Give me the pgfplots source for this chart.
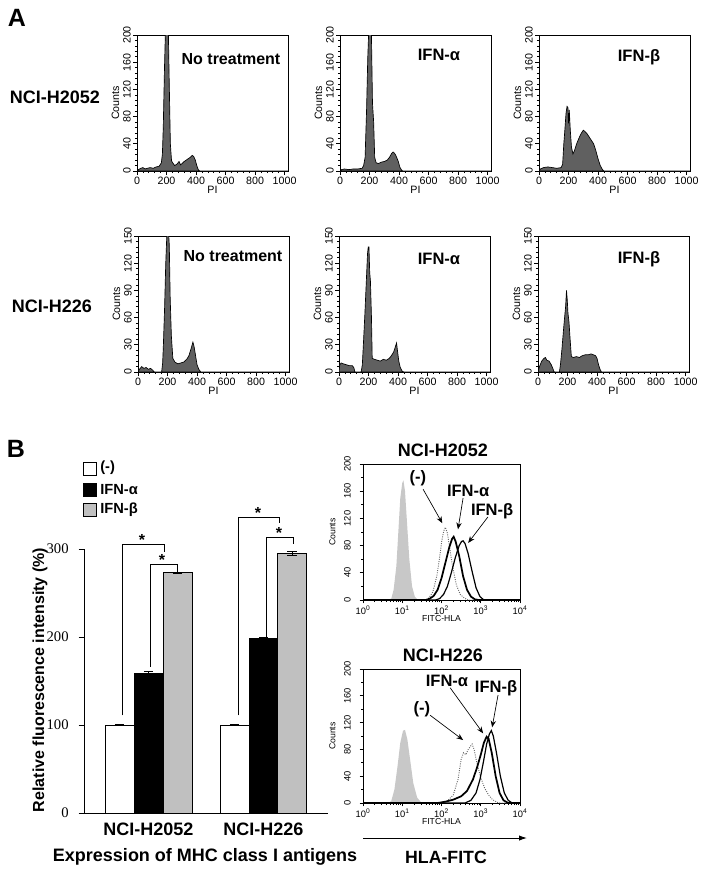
\documentclass[border=0pt]{standalone}
\usepackage{fontspec}
\setmainfont{Liberation Sans}
\newfontfamily\serif{Liberation Serif}
\usepackage{pgfplots}
\pgfplotsset{compat=1.18}
\usetikzlibrary{arrows.meta}
\definecolor{histfill}{RGB}{96,96,96}
\definecolor{barg}{RGB}{192,192,192}
\definecolor{isog}{RGB}{200,200,200}
\newcommand{\fsz}[1]{\fontsize{#1}{#1}\selectfont}
\tikzset{lab/.style={font=\bfseries\fsz{12.4}}}

\pgfplotsset{
 histA/.style={anchor=south west, scale only axis, width=113.25pt, height=102pt,
   xmin=0, xmax=1023, ymin=0, xtick={0,200,...,1000}, minor x tick num=4, minor y tick num=4,
   tick pos=left, tick align=outside, major tick length=3pt, minor tick length=1.6pt,
   every tick/.style={black, line width=0.5pt},
   axis line style={line width=0.7pt},
   tick label style={font=\fsz{8}},
   yticklabel style={rotate=90, anchor=south, inner sep=1.5pt},
   xticklabel style={inner sep=1.5pt},
   label style={font=\fsz{8}},
   xlabel=PI, ylabel=Counts,
   xlabel style={yshift=4pt},
   ylabel style={yshift=-2pt},
   /pgf/number format/assume math mode=true,
   /pgf/number format/1000 sep={},
 },
 histA1/.style={histA, ymax=200, ytick={0,40,...,200}},
 histA2/.style={histA, ymax=150, ytick={0,30,...,150}},
 hfill/.style={fill=histfill, draw=black, line width=0.5pt},
 histB/.style={anchor=south west, scale only axis, width=117.75pt,
   xmin=0, xmax=4, ymin=0, ymax=200,
   xtick={0,1,2,3,4},
   xticklabels={10\textsuperscript{0},10\textsuperscript{1},10\textsuperscript{2},10\textsuperscript{3},10\textsuperscript{4}},
   minor xtick={0.301,0.477,0.602,0.699,0.778,0.845,0.903,0.954,1.301,1.477,1.602,1.699,1.778,1.845,1.903,1.954,2.301,2.477,2.602,2.699,2.778,2.845,2.903,2.954,3.301,3.477,3.602,3.699,3.778,3.845,3.903,3.954},
   ytick={0,40,...,200}, minor y tick num=1,
   tick pos=left, tick align=outside, major tick length=2.5pt, minor tick length=1.5pt,
   every tick/.style={black, line width=0.5pt},
   axis line style={line width=0.7pt},
   tick label style={font=\fsz{7}},
   yticklabel style={rotate=90, anchor=south, inner sep=1.5pt, yshift=5pt},
   xticklabel style={inner sep=1.5pt},
   label style={font=\fsz{6.5}},
   xlabel=FITC-HLA, ylabel=Counts,
   xlabel style={yshift=4pt},
   ylabel style={at={(axis description cs:-0.145,0.5)}, anchor=south, rotate=0},
   clip=false,
   /pgf/number format/assume math mode=true,
 },
}

\begin{document}
\begin{tikzpicture}
\path[use as bounding box] (0,0) rectangle (528.75pt,-655.5pt);
\begin{scope}[x=0.75pt,y=-0.75pt]
\coordinate (a11) at (137,171);
\coordinate (a12) at (340,171);
\coordinate (a13) at (539,171);
\coordinate (a21) at (138,372);
\coordinate (a22) at (339,372);
\coordinate (a23) at (538,372);
\coordinate (bar) at (84,813);
\coordinate (b1) at (363,600);
\coordinate (b2) at (363,803);
\end{scope}

% ---------- Panel A, row 1 ----------
\begin{axis}[histA1, at={(a11)}]
\addplot[hfill] table[row sep=\\] {
0 0\\ 10 2\\ 25 4\\ 40 5\\ 55 3\\ 70 4\\ 90 5\\ 110 4\\ 130 6\\ 150 7\\ 165 12\\ 172 25\\ 178 65\\ 186 150\\ 193 210\\ 212 210\\ 218 135\\ 226 40\\ 234 15\\ 242 12\\ 255 8\\ 270 10\\ 285 14\\ 295 9\\ 305 11\\ 320 14\\ 340 17\\ 360 20\\ 375 23\\ 385 21\\ 395 16\\ 405 8\\ 415 2\\ 425 0\\ 1023 0\\
} \closedcycle;
\end{axis}

\begin{axis}[histA1, at={(a12)}]
\addplot[hfill] table[row sep=\\] {
0 0\\ 10 2\\ 30 3\\ 60 2\\ 90 3\\ 120 3\\ 150 4\\ 160 8\\ 170 20\\ 180 90\\ 188 166\\ 196 215\\ 212 215\\ 220 100\\ 228 72\\ 235 20\\ 245 12\\ 260 11\\ 280 13\\ 300 14\\ 320 16\\ 335 20\\ 350 26\\ 360 28\\ 370 26\\ 380 22\\ 395 14\\ 405 6\\ 415 2\\ 425 0\\ 1023 0\\
} \closedcycle;
\end{axis}

\begin{axis}[histA1, at={(a13)}]
\addplot[hfill] table[row sep=\\] {
0 0\\ 10 3\\ 30 5\\ 60 6\\ 90 5\\ 120 4\\ 150 5\\ 160 10\\ 168 40\\ 175 60\\ 183 85\\ 190 95\\ 196 93\\ 200 70\\ 205 90\\ 212 60\\ 220 35\\ 230 25\\ 240 30\\ 255 40\\ 270 48\\ 285 55\\ 300 60\\ 312 58\\ 325 55\\ 340 50\\ 355 45\\ 370 40\\ 385 30\\ 400 18\\ 415 8\\ 430 2\\ 440 0\\ 1023 0\\
} \closedcycle;
\end{axis}

% ---------- Panel A, row 2 ----------
\begin{axis}[histA2, at={(a21)}]
\addplot[hfill] table[row sep=\\] {
0 0\\ 10 3\\ 25 6\\ 40 4\\ 55 5\\ 70 3\\ 85 4\\ 100 2\\ 110 0\\ 160 0\\ 167 10\\ 172 30\\ 180 70\\ 188 120\\ 195 150\\ 205 160\\ 212 140\\ 218 82\\ 226 40\\ 236 15\\ 250 11\\ 270 9\\ 290 10\\ 310 11\\ 330 14\\ 345 18\\ 360 26\\ 372 33\\ 380 28\\ 390 18\\ 400 8\\ 412 3\\ 425 0\\ 1023 0\\
} \closedcycle;
\end{axis}

\begin{axis}[histA2, at={(a22)}]
\addplot[hfill] table[row sep=\\] {
0 0\\ 5 8\\ 15 10\\ 30 9\\ 50 8\\ 70 7\\ 90 7\\ 100 5\\ 108 0\\ 150 0\\ 158 8\\ 165 30\\ 175 63\\ 185 100\\ 193 130\\ 198 138\\ 203 138\\ 208 110\\ 213 100\\ 220 60\\ 225 15\\ 240 14\\ 260 13\\ 280 12\\ 300 14\\ 320 13\\ 340 15\\ 355 18\\ 370 22\\ 382 28\\ 390 32\\ 395 25\\ 405 12\\ 415 5\\ 428 1\\ 440 0\\ 1023 0\\
} \closedcycle;
\end{axis}

\begin{axis}[histA2, at={(a23)}]
\addplot[hfill] table[row sep=\\] {
0 0\\ 10 6\\ 25 12\\ 40 15\\ 50 16\\ 60 13\\ 75 12\\ 90 8\\ 100 4\\ 110 0\\ 145 0\\ 152 8\\ 162 25\\ 172 45\\ 180 60\\ 187 72\\ 193 90\\ 198 80\\ 203 65\\ 210 55\\ 218 35\\ 226 17\\ 240 16\\ 260 17\\ 280 16\\ 300 18\\ 320 19\\ 340 19\\ 360 20\\ 375 19\\ 390 18\\ 400 15\\ 410 8\\ 420 3\\ 430 0\\ 1023 0\\
} \closedcycle;
\end{axis}

% ---------- Panel B, bar chart ----------
\begin{axis}[at={(bar)}, anchor=south west, scale only axis, width=183pt, height=198pt,
  xmin=84, xmax=328, ymin=0, ymax=300,
  axis x line*=bottom, axis y line*=left, clip=false,
  xtick={148.5,263.5}, xticklabels={NCI-H2052,NCI-H226},
  xtick style={draw=none},
  ytick={0,100,200,300}, tick align=outside, major tick length=4pt,
  ytick style={black, line width=0.5pt},
  yticklabel style={font=\serif\fsz{11}, xshift=-4pt},
  xticklabel style={font=\bfseries\fsz{13.5}},
  axis line style={line width=0.6pt},
  /pgf/number format/assume math mode=true,
  every error bar/.style={black, line width=0.6pt}]
\addplot[ybar, bar width=21.75pt, bar shift=0pt, fill=white, draw=black, line width=0.6pt,
  error bars/.cd, y dir=both, y explicit, error mark options={rotate=90, mark size=3.5pt, line width=0.6pt}]
  coordinates {(119.5,100) +- (0,0.4) (234.5,100) +- (0,0.4)};
\addplot[ybar, bar width=21.75pt, bar shift=0pt, fill=black, draw=black, line width=0.6pt,
  error bars/.cd, y dir=both, y explicit, error mark options={rotate=90, mark size=3.5pt, line width=0.6pt}]
  coordinates {(148.5,159) +- (0,1.5) (263.5,198) +- (0,1.5)};
\addplot[ybar, bar width=21.75pt, bar shift=0pt, fill=barg, draw=black, line width=0.6pt,
  error bars/.cd, y dir=both, y explicit, error mark options={rotate=90, mark size=3.5pt, line width=0.6pt}]
  coordinates {(177.5,273) +- (0,0.5) (292,295) +- (0,2.5)};
% significance brackets
\draw[line width=0.6pt] (axis cs:122,111) |- (axis cs:164,305.7) -- (axis cs:164,296.6);
\draw[line width=0.6pt] (axis cs:150,166) |- (axis cs:177,283) -- (axis cs:177,274);
\draw[line width=0.6pt] (axis cs:238,111) |- (axis cs:279,336) -- (axis cs:279,329.5);
\draw[line width=0.6pt] (axis cs:266,200) |- (axis cs:293,313.6) -- (axis cs:293,305.7);
\node[font=\bfseries\fsz{12}, anchor=base] at (axis cs:142,304) {*};
\node[font=\bfseries\fsz{12}, anchor=base] at (axis cs:162,281.5) {*};
\node[font=\bfseries\fsz{12}, anchor=base] at (axis cs:258,334.5) {*};
\node[font=\bfseries\fsz{12}, anchor=base] at (axis cs:279,312) {*};
\end{axis}

% ---------- Panel B, histogram NCI-H2052 ----------
\begin{axis}[histB, at={(b1)}, height=102pt]
\addplot[draw=none, fill=isog] table[row sep=\\] {
0.6 0\\ 0.72 2\\ 0.78 15\\ 0.85 50\\ 0.9 100\\ 0.95 150\\ 1.0 172\\ 1.03 176\\ 1.07 160\\ 1.12 115\\ 1.18 60\\ 1.25 20\\ 1.32 5\\ 1.4 0\\
} \closedcycle;
\addplot[densely dotted, color=black!60, line width=0.7pt] table[row sep=\\] {
0 0\\ 1.6 0\\ 1.68 3\\ 1.78 12\\ 1.88 35\\ 1.95 62\\ 2.01 88\\ 2.06 102\\ 2.1 107\\ 2.15 98\\ 2.2 80\\ 2.28 50\\ 2.38 22\\ 2.48 8\\ 2.58 3\\ 2.68 0\\ 4 0\\
};
\addplot[black, line width=1.3pt] table[row sep=\\] {
0 0\\ 1.6 0\\ 1.7 2\\ 1.8 6\\ 1.9 15\\ 2.0 32\\ 2.1 55\\ 2.2 78\\ 2.27 90\\ 2.31 93\\ 2.36 86\\ 2.45 65\\ 2.55 35\\ 2.65 15\\ 2.75 5\\ 2.85 1\\ 2.95 0\\ 4 0\\
};
\addplot[black, line width=0.9pt] table[row sep=\\] {
0 0\\ 1.85 0\\ 1.95 2\\ 2.05 8\\ 2.15 20\\ 2.25 40\\ 2.35 62\\ 2.45 80\\ 2.51 86\\ 2.55 87\\ 2.6 83\\ 2.68 68\\ 2.78 42\\ 2.88 18\\ 2.98 5\\ 3.08 0\\ 4 0\\
};
\node[lab] at (axis cs:1.40,179) {(-)};
\node[lab] at (axis cs:2.68,160) {IFN-α};
\node[lab] at (axis cs:3.29,131) {IFN-β};
\draw[-{Stealth[length=5pt,width=4pt]}, line width=0.5pt] (axis cs:1.53,163) -- (axis cs:2.02,113);
\draw[-{Stealth[length=5pt,width=4pt]}, line width=0.5pt] (axis cs:2.55,150) -- (axis cs:2.42,104);
\draw[-{Stealth[length=5pt,width=4pt]}, line width=0.5pt] (axis cs:3.18,122) -- (axis cs:2.68,84);
\end{axis}

% ---------- Panel B, histogram NCI-H226 ----------
\begin{axis}[histB, at={(b2)}, height=100.5pt]
\addplot[draw=none, fill=isog] table[row sep=\\] {
0.65 0\\ 0.72 3\\ 0.8 20\\ 0.88 55\\ 0.95 90\\ 1.02 108\\ 1.07 109\\ 1.13 95\\ 1.2 65\\ 1.28 30\\ 1.38 8\\ 1.48 1\\ 1.55 0\\
} \closedcycle;
\addplot[densely dotted, color=black!60, line width=0.7pt] table[row sep=\\] {
0 0\\ 2.0 0\\ 2.15 3\\ 2.3 12\\ 2.42 35\\ 2.5 65\\ 2.56 75\\ 2.62 72\\ 2.68 80\\ 2.73 84\\ 2.78 88\\ 2.83 80\\ 2.9 60\\ 3.0 38\\ 3.1 22\\ 3.2 12\\ 3.3 5\\ 3.42 1\\ 3.5 0\\ 4 0\\
};
\addplot[black, line width=1.3pt] table[row sep=\\] {
0 0\\ 1.9 0\\ 2.1 2\\ 2.3 5\\ 2.5 10\\ 2.65 18\\ 2.8 35\\ 2.9 52\\ 3.0 72\\ 3.08 90\\ 3.15 99\\ 3.2 96\\ 3.28 75\\ 3.38 40\\ 3.48 15\\ 3.58 4\\ 3.7 0\\ 4 0\\
};
\addplot[black, line width=0.9pt] table[row sep=\\] {
0 0\\ 2.6 0\\ 2.75 4\\ 2.88 15\\ 2.98 35\\ 3.07 62\\ 3.15 88\\ 3.22 103\\ 3.27 108\\ 3.32 100\\ 3.4 75\\ 3.5 40\\ 3.6 15\\ 3.7 4\\ 3.8 0\\ 4 0\\
};
\node[lab] at (axis cs:1.50,140) {(-)};
\node[lab] at (axis cs:2.14,182) {IFN-α};
\node[lab] at (axis cs:3.39,172) {IFN-β};
\draw[-{Stealth[length=5pt,width=4pt]}, line width=0.5pt] (axis cs:1.71,131) -- (axis cs:2.55,94);
\draw[-{Stealth[length=5pt,width=4pt]}, line width=0.5pt] (axis cs:2.22,172) -- (axis cs:3.06,104);
\draw[-{Stealth[length=5pt,width=4pt]}, line width=0.5pt] (axis cs:3.44,161) -- (axis cs:3.29,113);
\end{axis}

% ---------- annotations ----------
\begin{scope}[x=0.75pt,y=-0.75pt]
\node[font=\bfseries\fsz{18.75}] at (17,18) {A};
\node[font=\bfseries\fsz{18.75}] at (16,449) {B};
\node[font=\bfseries\fsz{13.5}] at (55,97) {NCI-H2052};
\node[font=\bfseries\fsz{13.5}] at (52,306) {NCI-H226};
\node[font=\bfseries\fsz{12}] at (231,59) {No treatment};
\node[font=\bfseries\fsz{12}] at (233,256) {No treatment};
\node[lab] at (439,55) {IFN-α};
\node[lab] at (439,259) {IFN-α};
\node[lab] at (639,57) {IFN-β};
\node[lab] at (639,259) {IFN-β};
% legend
\draw[line width=0.5pt, fill=white] (83,462) rectangle (96,475);
\draw[line width=0.5pt, fill=black] (83,483) rectangle (96,496);
\draw[line width=0.5pt, fill=barg] (83,503) rectangle (96,516);
\node[font=\bfseries\fsz{11}, anchor=west, inner sep=0pt] at (100,468) {(-)};
\node[font=\bfseries\fsz{11}, anchor=west, inner sep=0pt] at (100,490) {IFN-α};
\node[font=\bfseries\fsz{11}, anchor=west, inner sep=0pt] at (100,510) {IFN-β};
\node[font=\bfseries\fsz{12}, rotate=90] at (40,680) {Relative fluorescence intensity (\%)};
\node[font=\bfseries\fsz{13.5}] at (205,857) {Expression of MHC class I antigens};
\node[font=\bfseries\fsz{13.5}] at (443,450) {NCI-H2052};
\node[font=\bfseries\fsz{13.5}] at (443,655) {NCI-H226};
\draw[-{Latex[length=6pt,width=4pt]}, line width=0.7pt] (363,838) -- (527,838);
\node[font=\bfseries\fsz{13.3}] at (446,857) {HLA-FITC};
\end{scope}
\end{tikzpicture}
\end{document}
